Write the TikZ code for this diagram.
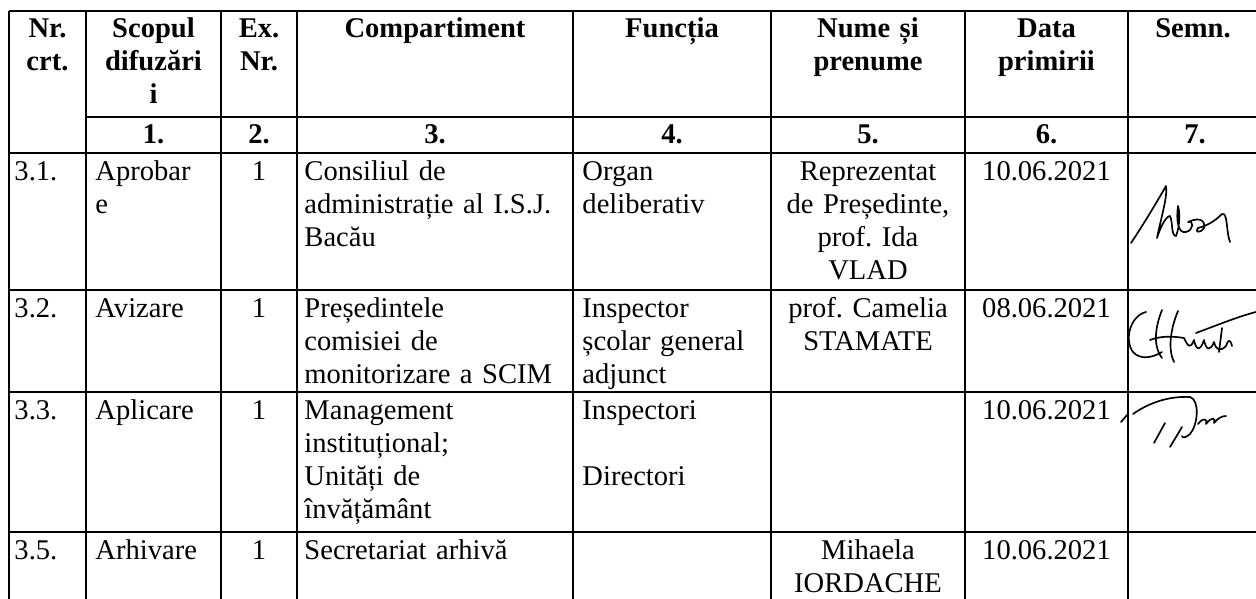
\documentclass[tikz,border=0pt]{standalone}
\usepackage{fontspec}
\setmainfont{Liberation Serif}
\usetikzlibrary{positioning}
\frenchspacing
\setlength{\lineskiplimit}{-6pt}

\begin{document}
\begin{tikzpicture}[x=0.42pt, y=-0.42pt,
    every node/.style={inner sep=0pt, font=\fontsize{12}{13.86}\selectfont},
    txt/.style={anchor=base west, text width=150pt, align=left},
    ctr/.style={anchor=base, text width=110pt, align=center},
    head/.style={ctr, font=\fontsize{12}{13.86}\selectfont\bfseries},
    grid/.style={line width=0.9pt},
    sig/.style={line width=0.7pt, line cap=round, line join=round}]
      \useasboundingbox (0,0) rectangle (1256,599);

      % table grid
      \foreach \x in {9,86,221,297,573,771,965,1128}
        \draw[grid] (\x,11) -- (\x,599);
      \draw[grid] (9,11) -- (1256,11);
      \draw[grid] (86,117) -- (1256,117);
      \foreach \y in {153,290,392,532}
        \draw[grid] (9,\y) -- (1256,\y);

      % header
      \node[head] (hnr) at (47.5,37) {Nr.\\crt.};
      \node[head] (hscop) at (153.5,37) {Scopul\\difuzări\\i};
      \node[head] (hex) at (259,37) {Ex.\\Nr.};
      \node[head] (hcomp) at (435,37) {Compartiment};
      \node[head] (hfunc) at (672,37) {Funcția};
      \node[head] (hnume) at (868,37) {Nume și\\prenume};
      \node[head] (hdata) at (1046.5,37) {Data\\primirii};
      \node[head] (hsemn) at (1193,37) {Semn.};
      \foreach \x/\t [count=\i] in {153.5/1., 259/2., 435/3., 672/4., 868/5., 1046.5/6., 1195/7.}
        \node[head] (col\i) at (\x,143) {\t};

      % 3.1
      \node[txt] (nr31) at (14,180) {3.1.};
      \node[txt] (scop31) at (95,180) {Aprobar\\e};
      \node[ctr] (ex31) at (259,180) {1};
      \node[txt] (comp31) at (304,180) {Consiliul de\\administrație al I.S.J.\\Bacău};
      \node[txt] (func31) at (582,180) {Organ\\deliberativ};
      \node[ctr] (nume31) at (868,180) {Reprezentat\\de Președinte,\\prof. Ida\\VLAD};
      \node[ctr] (data31) at (1046.5,180) {10.06.2021};

      % 3.2
      \node[txt] (nr32) at (14,317) {3.2.};
      \node[txt] (scop32) at (95,317) {Avizare};
      \node[ctr] (ex32) at (259,317) {1};
      \node[txt] (comp32) at (304,317) {Președintele\\comisiei de\\monitorizare a SCIM};
      \node[txt] (func32) at (582,317) {Inspector\\școlar general\\adjunct};
      \node[ctr] (nume32) at (868,317) {prof. Camelia\\STAMATE};
      \node[ctr] (data32) at (1046.5,317) {08.06.2021};

      % 3.3
      \node[txt] (nr33) at (14,419) {3.3.};
      \node[txt] (scop33) at (95,419) {Aplicare};
      \node[ctr] (ex33) at (259,419) {1};
      \node[txt] (comp33) at (304,419) {Management\\instituțional;\\Unități de\\învățământ};
      \node[txt] (func33) at (582,419) {Inspectori\\[13.86pt]Directori};
      \node[ctr] (data33) at (1046.5,419) {10.06.2021};

      % 3.5
      \node[txt] (nr35) at (14,559) {3.5.};
      \node[txt] (scop35) at (95,559) {Arhivare};
      \node[ctr] (ex35) at (259,559) {1};
      \node[txt] (comp35) at (304,559) {Secretariat arhivă};
      \node[ctr] (nume35) at (868,559) {Mihaela\\IORDACHE};
      \node[ctr] (data35) at (1046.5,559) {10.06.2021};

      % signatures
      \draw[sig] (1131,243) .. controls (1145,222) and (1158,200) .. (1166,186)
        .. controls (1168,196) and (1160,222) .. (1157,238)
        .. controls (1160,228) and (1166,216) .. (1170,216)
        .. controls (1173,222) and (1171,236) .. (1176,236)
        .. controls (1180,226) and (1180,212) .. (1178,206)
        .. controls (1176,220) and (1178,234) .. (1186,232)
        .. controls (1194,230) and (1194,220) .. (1188,222)
        .. controls (1196,218) and (1206,218) .. (1204,228)
        .. controls (1200,234) and (1194,232) .. (1198,228)
        .. controls (1206,226) and (1214,222) .. (1222,214)
        .. controls (1228,212) and (1226,232) .. (1230,242);
      \draw[sig] (1146,312) .. controls (1130,316) and (1124,340) .. (1133,352)
        .. controls (1140,360) and (1152,358) .. (1162,352);
      \draw[sig] (1162,310) .. controls (1156,325) and (1152,345) .. (1162,358);
      \draw[sig] (1178,311) .. controls (1170,330) and (1168,350) .. (1174,362);
      \draw[sig] (1150,340) .. controls (1160,336) and (1172,336) .. (1184,338)
        .. controls (1188,346) and (1190,350) .. (1194,340)
        .. controls (1196,350) and (1200,352) .. (1204,340)
        .. controls (1206,350) and (1210,352) .. (1214,342)
        .. controls (1216,350) and (1220,352) .. (1226,346)
        .. controls (1228,340) and (1230,338) .. (1232,346);
      \draw[sig] (1196,333) .. controls (1220,324) and (1240,316) .. (1256,312);
      \draw[sig] (1222,328) -- (1219,352);
      \draw[sig] (1133,414) .. controls (1150,402) and (1170,396) .. (1190,397)
        .. controls (1200,400) and (1198,425) .. (1190,434)
        .. controls (1186,438) and (1182,438) .. (1182,436);
      \draw[sig] (1154,443) -- (1165,423);
      \draw[sig] (1170,447) -- (1182,427);
      \draw[sig] (1198,424) .. controls (1204,416) and (1208,420) .. (1206,424)
        .. controls (1212,416) and (1216,418) .. (1214,423)
        .. controls (1218,418) and (1222,416) .. (1226,416);
      \draw[sig] (1121,422) -- (1127,415);
    \end{tikzpicture}
\end{document}
